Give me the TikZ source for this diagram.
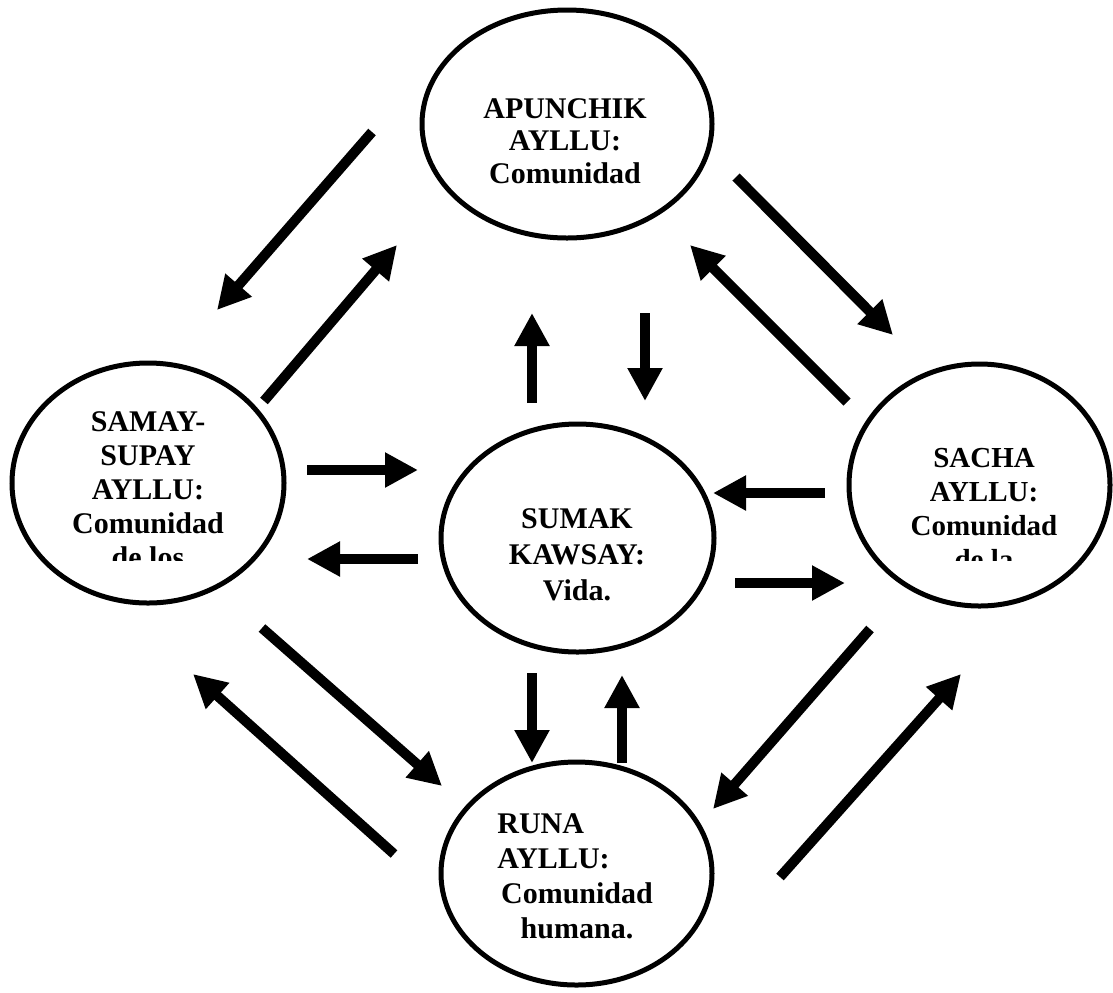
\documentclass[tikz,border=0pt]{standalone}
\usepackage{fontspec}
\setmainfont{Liberation Serif}
\usetikzlibrary{shapes.geometric,arrows.meta}
\tikzstyle{ayllu} = [draw, ellipse, line width=2.5pt, inner sep=0pt]
\tikzstyle{txt} = [font=\bfseries\fontsize{15}{#1}\selectfont, align=center, inner sep=0pt, anchor=base]
\tikzstyle{flow} = [draw, line width=5pt, -{Triangle[length=16.5pt, width=16.5pt]}]

\begin{document}
\begin{tikzpicture}[x=0.5pt, y=-0.5pt]
	\useasboundingbox (0,0) rectangle (1113,992);
	
	\node [ayllu, minimum width=145pt, minimum height=114pt] (apunchik) at (567,124) {};
	\node [ayllu, minimum width=136pt, minimum height=120pt] (samay) at (148,483) {};
	\node [ayllu, minimum width=130.5pt, minimum height=121pt] (sacha) at (979.5,485) {};
	\node [ayllu, minimum width=136.5pt, minimum height=114pt] (sumak) at (577.5,538) {};
	\node [ayllu, minimum width=135.5pt, minimum height=111.5pt] (runa) at (576.5,873.5) {};
	
	% base anchor sits on the last line
	\node [txt=16.25] (apunchik_txt) at (565,183) {APUNCHIK\\AYLLU:\\Comunidad};
	\node [txt=18] (sumak_txt) at (577,600) {SUMAK\\KAWSAY:\\Vida.};
	\node [txt=17.5, align=left, anchor=base west] (runa_txt) at (497,868) {RUNA\\AYLLU:};
	\node [txt=17.5] (runa_txt2) at (577,938) {Comunidad\\humana.};
	
	% texts cut off at the bottom
	\begin{scope}
		\clip (0,0) rectangle (1113,560);
		\node [txt=16.9] (samay_txt) at (148,567) {SAMAY-\\SUPAY\\AYLLU:\\Comunidad\\de los};
		\node [txt=17, font=\bfseries\fontsize{14.5}{17}\selectfont] (sacha_txt) at (984,569) {SACHA\\AYLLU:\\Comunidad\\de la};
	\end{scope}
	
	% outer ring
	\coordinate (ap_sa1) at (372,132);
	\coordinate (ap_sa2) at (217,310);
	\path [flow] (ap_sa1) to (ap_sa2);
	\coordinate (sa_ap1) at (264,401);
	\coordinate (sa_ap2) at (397,245);
	\path [flow] (sa_ap1) to (sa_ap2);
	
	\coordinate (ap_sc1) at (736,177);
	\coordinate (ap_sc2) at (893,335);
	\path [flow] (ap_sc1) to (ap_sc2);
	\coordinate (sc_ap1) at (847,402);
	\coordinate (sc_ap2) at (690,245);
	\path [flow] (sc_ap1) to (sc_ap2);
	
	\coordinate (sa_ru1) at (262,628);
	\coordinate (sa_ru2) at (442,786);
	\path [flow] (sa_ru1) to (sa_ru2);
	\coordinate (ru_sa1) at (394,854);
	\coordinate (ru_sa2) at (193,674);
	\path [flow] (ru_sa1) to (ru_sa2);
	
	\coordinate (sc_ru1) at (870,629);
	\coordinate (sc_ru2) at (713,809);
	\path [flow] (sc_ru1) to (sc_ru2);
	\coordinate (ru_sc1) at (780,877);
	\coordinate (ru_sc2) at (961,674);
	\path [flow] (ru_sc1) to (ru_sc2);
	
	% to and from the centre
	\coordinate (su_ap1) at (532,403);
	\coordinate (su_ap2) at (532,313);
	\path [flow] (su_ap1) to (su_ap2);
	\coordinate (ap_su1) at (645,313);
	\coordinate (ap_su2) at (645,401);
	\path [flow] (ap_su1) to (ap_su2);
	
	\coordinate (sa_su1) at (307,470);
	\coordinate (sa_su2) at (418,470);
	\path [flow] (sa_su1) to (sa_su2);
	\coordinate (su_sa1) at (418,559);
	\coordinate (su_sa2) at (307,559);
	\path [flow] (su_sa1) to (su_sa2);
	
	\coordinate (sc_su1) at (825,493);
	\coordinate (sc_su2) at (713,493);
	\path [flow] (sc_su1) to (sc_su2);
	\coordinate (su_sc1) at (735,583);
	\coordinate (su_sc2) at (845,583);
	\path [flow] (su_sc1) to (su_sc2);
	
	\coordinate (su_ru1) at (532,673);
	\coordinate (su_ru2) at (532,763);
	\path [flow] (su_ru1) to (su_ru2);
	\coordinate (ru_su1) at (622,763);
	\coordinate (ru_su2) at (622,675);
	\path [flow] (ru_su1) to (ru_su2);
\end{tikzpicture}
\end{document}
